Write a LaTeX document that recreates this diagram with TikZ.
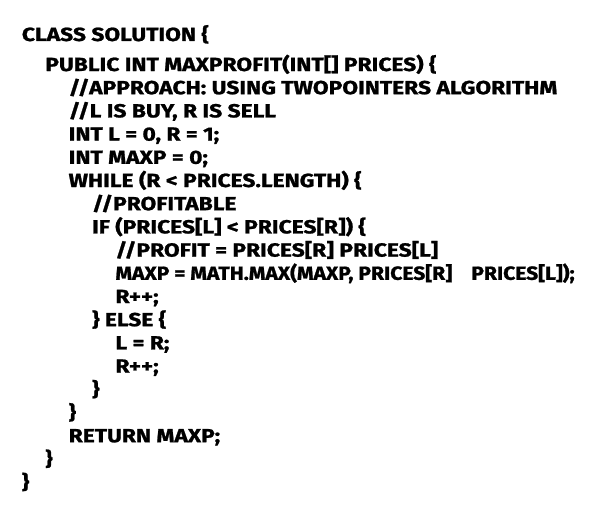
\documentclass[tikz,border=0pt]{standalone}
\usepackage{fontspec}
\setmainfont{Fira Sans}
\newfontfamily\comicfont[FakeStretch=1.2, BoldFeatures={FakeBold=1.2}]{Fira Sans}
\newfontfamily\comicnarrow[FakeStretch=1.11, BoldFeatures={FakeBold=1.2}]{Fira Sans}
\tikzset{
	codeline/.style={
			anchor=base west, inner sep=0pt, font=\comicfont\bfseries\fontsize{19}{21}\selectfont
		},
	longline/.style={
			codeline, font=\comicnarrow\bfseries\fontsize{19}{21}\selectfont
		}
}

\begin{document}
\begin{tikzpicture}[x=1pt, y=-1pt]
        \useasboundingbox (0, 0) rectangle (600, 511);
        \node[codeline] (cls)     at (21.7, 41.0)   {CLASS SOLUTION \{};
        \node[codeline] (method)  at (45.1, 71.0)   {PUBLIC INT MAXPROFIT(INT[] PRICES) \{};
        \node[codeline] (cmtA)    at (68.5, 94.2)   {//APPROACH: USING TWOPOINTERS ALGORITHM};
        \node[codeline] (cmtB)    at (68.5, 117.4)  {//L IS BUY, R IS SELL};
        \node[codeline] (initLR)  at (68.5, 140.6)  {INT L = 0, R = 1;};
        \node[codeline] (initP)   at (68.5, 163.8)  {INT MAXP = 0;};
        \node[codeline] (loop)    at (68.5, 187.0)  {WHILE (R < PRICES.LENGTH) \{};
        \node[codeline] (cmtC)    at (91.9, 210.2)  {//PROFITABLE};
        \node[codeline] (test)    at (91.9, 233.4)  {IF (PRICES[L] < PRICES[R]) \{};
        \node[codeline] (cmtD)    at (115.3, 256.6) {//PROFIT = PRICES[R] PRICES[L]};
        \node[longline] (update)  at (115.3, 279.8) {MAXP = MATH.MAX(MAXP, PRICES[R]\hspace{1em}PRICES[L]);};
        \node[codeline] (incA)    at (115.3, 303.0) {R++;};
        \node[codeline] (other)   at (91.9, 326.2)  {\} ELSE \{};
        \node[codeline] (move)    at (115.3, 349.4) {L = R;};
        \node[codeline] (incB)    at (115.3, 372.6) {R++;};
        \node[codeline] (endIf)   at (91.9, 395.8)  {\}};
        \node[codeline] (endLoop) at (68.5, 419.0)  {\}};
        \node[codeline] (ret)     at (68.5, 442.2)  {RETURN MAXP;};
        \node[codeline] (endFn)   at (45.1, 465.4)  {\}};
        \node[codeline] (endCls)  at (21.7, 488.6)  {\}};
    \end{tikzpicture}
\end{document}
